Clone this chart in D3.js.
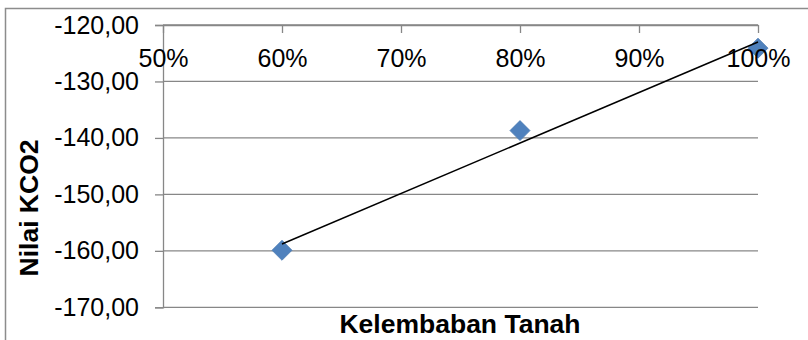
<!DOCTYPE html>
<html>
<head>
<meta charset="utf-8">
<script src="https://cdn.jsdelivr.net/npm/d3@7"></script>
<style>
  html, body { margin: 0; padding: 0; background: #fff; }
  svg { display: block; font-family: "Liberation Sans", Arial, sans-serif; }
</style>
</head>
<body>
<svg id="chart" width="808" height="340"></svg>
<script>
// Soil moisture (fraction) vs KCO2 value
const moisture = [0.6, 0.8, 1.0];
const kco2 = [-159.9, -138.7, -124.1];
const yTicks = [-120, -130, -140, -150, -160, -170];
const xTicks = [0.5, 0.6, 0.7, 0.8, 0.9, 1.0];
const xTitle = "Kelembaban Tanah";
const yTitle = "Nilai KCO2";

const svg = d3.select("#chart");
const W = 808, H = 340;
const plot = { left: 163, right: 758, top: 25, bottom: 307.3 };
const gridColor = "#878787";
const tickFont = 25;

// Outer chart border (extends past the visible frame on right and bottom)
svg.append("rect")
  .attr("x", 5.5).attr("y", 8.5)
  .attr("width", W + 20).attr("height", H + 20)
  .attr("fill", "none").attr("stroke", "#8c8c8c").attr("stroke-width", 1.5);

const x = d3.scaleLinear().domain([0.5, 1.0]).range([plot.left, plot.right]);
const y = d3.scaleLinear().domain([-120, -170]).range([plot.top, plot.bottom]);

// Horizontal gridlines
svg.append("g").selectAll("line").data(yTicks).join("line")
  .attr("x1", plot.left).attr("x2", plot.right)
  .attr("y1", d => y(d)).attr("y2", d => y(d))
  .attr("stroke", gridColor).attr("stroke-width", 1.3);

// Y axis (left); labels use a plain hyphen and comma decimal separator
const fmtY = d => (d < 0 ? "-" : "") + Math.abs(d).toFixed(2).replace(".", ",");
const yAxis = svg.append("g")
  .attr("transform", `translate(${plot.left},0)`)
  .call(d3.axisLeft(y).tickValues(yTicks).tickSize(8).tickPadding(16).tickFormat(fmtY));
yAxis.select(".domain").attr("stroke", gridColor).attr("stroke-width", 1.3);
yAxis.selectAll(".tick line").attr("stroke", gridColor).attr("stroke-width", 1.3);
yAxis.selectAll(".tick text")
  .attr("fill", "#000").attr("font-size", tickFont)
  .attr("font-family", "'Liberation Sans', Arial, sans-serif");

// Diamond markers
svg.append("g").selectAll("path").data(moisture).join("path")
  .attr("d", "M0,-10L10,0L0,10L-10,0Z")
  .attr("transform", (d, i) => `translate(${x(d)},${y(kco2[i])})`)
  .attr("fill", "#4f81bd").attr("stroke", "#4a7ab3").attr("stroke-width", 0.8);

// X axis crosses at the top of the plot; ticks point into the plot,
// labels sit over the markers
const fmtX = d => Math.round(d * 100) + "%";
const xAxis = svg.append("g")
  .attr("transform", `translate(0,${plot.top})`)
  .call(d3.axisBottom(x).tickValues(xTicks).tickSizeInner(8).tickSizeOuter(0).tickPadding(16).tickFormat(fmtX));
xAxis.select(".domain").attr("stroke", gridColor).attr("stroke-width", 1.3);
xAxis.selectAll(".tick line").attr("stroke", gridColor).attr("stroke-width", 1.3);
xAxis.selectAll(".tick text")
  .attr("fill", "#000").attr("font-size", tickFont)
  .attr("font-family", "'Liberation Sans', Arial, sans-serif");

// Linear least-squares trendline across the data range, drawn on top
const mx = d3.mean(moisture), my = d3.mean(kco2);
const slope = d3.sum(moisture.map((v, i) => (v - mx) * (kco2[i] - my))) /
              d3.sum(moisture.map(v => (v - mx) ** 2));
const intercept = my - slope * mx;
const xMin = d3.min(moisture), xMax = d3.max(moisture);
svg.append("line")
  .attr("x1", x(xMin)).attr("y1", y(intercept + slope * xMin))
  .attr("x2", x(xMax)).attr("y2", y(intercept + slope * xMax))
  .attr("stroke", "#000").attr("stroke-width", 1.5);

// Axis titles
svg.append("text")
  .attr("x", 460).attr("y", 333)
  .attr("text-anchor", "middle")
  .attr("font-weight", "bold").attr("font-size", 26.5)
  .text(xTitle);

svg.append("text")
  .attr("transform", "translate(38,208) rotate(-90)")
  .attr("text-anchor", "middle")
  .attr("font-weight", "bold").attr("font-size", 26.5)
  .text(yTitle);
</script>
</body>
</html>
